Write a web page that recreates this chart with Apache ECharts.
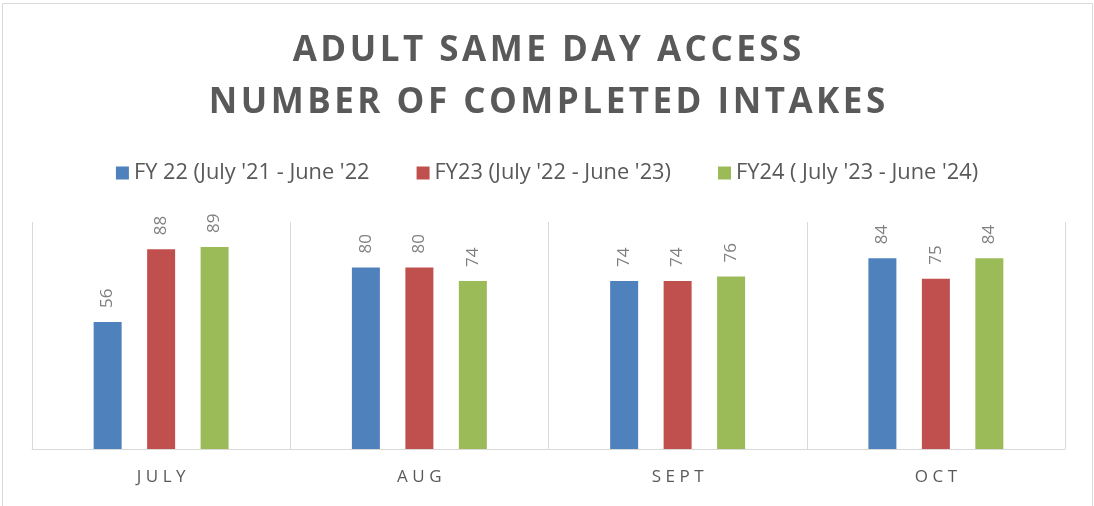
<!DOCTYPE html>
<html>
<head>
<meta charset="utf-8">
<script src="https://cdn.jsdelivr.net/npm/echarts@6/dist/echarts.min.js"></script>
<style>
html, body { margin: 0; padding: 0; background: #fff; }
#chart { width: 1094px; height: 506px; }
</style>
</head>
<body>
<div id="chart"></div>
<script>
// data
const months = ["JULY", "AUG", "SEPT", "OCT"];
const seriesNames = ["FY 22 (July '21 - June '22", "FY23 (July '22 - June '23)", "FY24 ( July '23 - June '24)"];
const fy22 = [56, 80, 74, 84];
const fy23 = [88, 80, 74, 75];
const fy24 = [89, 74, 76, 84];
const colors = ["#4f81bd", "#c0504d", "#9bbb59"];
const titleLines = ["ADULT SAME DAY ACCESS", "NUMBER OF COMPLETED INTAKES"];

const font = "'Open Sans', 'Liberation Sans', sans-serif";
const gridTop = 222, gridBottom = 57;
const plotH = 506 - gridTop - gridBottom;

// fake letter spacing with narrow spaces (canvas text has no letter-spacing)
function spaced(s, gap) {
  return s.split("").join(gap);
}

function barSeries(name, data, color) {
  return {
    name: name,
    type: "bar",
    data: data,
    barWidth: 28,
    barGap: "91%",
    itemStyle: { color: color },
    label: {
      show: true,
      position: "top",
      rotate: 90,
      align: "left",
      verticalAlign: "middle",
      distance: 14,
      color: "#7f7f7f",
      fontSize: 17,
      fontFamily: font
    }
  };
}

let chart = echarts.init(document.getElementById("chart"));
chart.setOption({
  animation: false,
  color: colors,
  title: {
    text: titleLines.map(l => spaced(l, "\u200a")).join("\n"),
    left: "center",
    top: 20,
    textStyle: {
      fontFamily: font,
      fontSize: 35,
      fontWeight: "bold",
      lineHeight: 52,
      color: "#595959"
    }
  },
  legend: {
    top: 157,
    left: "center",
    itemWidth: 13,
    itemHeight: 13,
    itemGap: 47,
    icon: "rect",
    textStyle: { fontFamily: font, fontSize: 21.8, color: "#595959" }
  },
  grid: { left: 32, right: 29, top: gridTop, bottom: gridBottom },
  xAxis: {
    type: "category",
    data: months,
    axisLine: { lineStyle: { color: "#d9d9d9", width: 1 } },
    axisTick: { show: true, inside: true, length: plotH, lineStyle: { color: "#d9d9d9" } },
    axisLabel: {
      margin: 20,
      color: "#595959",
      fontSize: 17,
      fontFamily: font,
      formatter: v => spaced(v, "\u2009\u200a")
    }
  },
  yAxis: { type: "value", min: 0, max: 100, show: false },
  graphic: [{
    type: "rect",
    shape: { x: 2.5, y: 3.5, width: 1090, height: 520 },
    style: { fill: "none", stroke: "#d9d9d9", lineWidth: 1 },
    silent: true
  }],
  series: [
    barSeries(seriesNames[0], fy22, colors[0]),
    barSeries(seriesNames[1], fy23, colors[1]),
    barSeries(seriesNames[2], fy24, colors[2])
  ]
});
</script>
</body>
</html>
